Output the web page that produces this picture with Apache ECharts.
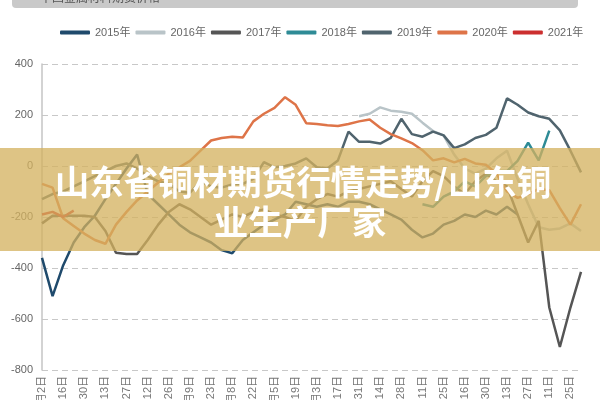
<!DOCTYPE html>
<html>
<head>
<meta charset="utf-8">
<script src="https://cdn.jsdelivr.net/npm/echarts@6/dist/echarts.min.js"></script>
<style>html,body{margin:0;padding:0;background:#fff}#c{width:600px;height:400px}</style>
</head>
<body>
<div id="c"></div>
<script>
const categories = ['1月2日','1月9日','1月16日','1月23日','1月30日','2月6日','2月13日','2月20日','2月27日','3月5日','3月12日','3月19日','3月26日','4月2日','4月9日','4月16日','4月23日','4月30日','5月8日','5月15日','5月22日','5月29日','6月5日','6月12日','6月19日','6月26日','7月3日','7月10日','7月17日','7月24日','7月31日','8月7日','8月14日','8月21日','8月28日','9月4日','9月11日','9月18日','9月25日','10月9日','10月16日','10月23日','10月30日','11月6日','11月13日','11月20日','11月27日','12月4日','12月11日','12月18日','12月25日','12月31日'];
const seriesNames = ['2015年','2016年','2017年','2018年','2019年','2020年','2021年'];
const yTicks = [-800,-600,-400,-200,0,200,400];
const N = null;
const s2015 = [-360,-510,-390,-300,-240,-195,-130,-70,-10,45,-110,-150,-190,-230,-260,-280,-300,-330,-342,-290,-260,-230,-210,-190,-140,-150,-160,-150,-160,-140,-140,-150,-170,-190,-210,-250,-280,-265,-230,-215,-190,-200,-175,-190,-160,-190,N,N,N,N,N,N];
const s2016 = [N,N,N,N,N,N,N,N,N,N,N,N,N,N,N,N,N,N,N,N,N,N,N,N,N,N,N,N,N,N,195,205,230,217,213,205,170,137,120,45,-10,-30,-10,30,60,-50,-150,-240,-250,-245,-225,-255];
const s2017 = [-225,-195,-195,-195,-195,-200,-255,-340,-345,-345,-290,-230,-180,-150,-170,-200,-230,-210,-190,-200,-180,-170,-190,-200,-215,-160,-130,-110,-120,-100,-90,-80,-70,-60,-90,-120,-60,-20,-40,-80,-110,-60,-30,-60,-80,-190,-300,-215,-555,-710,-555,-415];
const s2018 = [N,N,N,N,N,N,N,N,N,N,N,N,N,N,N,N,N,N,N,N,N,N,N,N,N,N,N,N,N,N,N,N,N,N,N,N,-150,-160,-120,-100,-60,-80,-40,-20,-20,20,92,22,139,N,N,N];
const s2019 = [-130,-110,-100,-80,-60,-40,-20,0,10,-10,-40,-60,-70,-100,-105,-60,-80,-85,-72,-70,-50,15,-5,0,10,30,-5,-10,22,135,95,95,88,110,185,125,115,135,120,70,85,110,122,150,265,240,210,195,185,140,60,-25];
const s2020 = [-70,-85,-205,-235,-265,-290,-305,-230,-180,-135,-100,-65,-30,-5,20,60,100,110,115,112,175,205,228,270,240,168,165,160,157,165,175,182,150,125,108,90,62,22,30,14,28,10,5,-30,-100,-125,-110,-90,-95,-165,-230,-150];
const s2021 = [-190,-180,-200,-175,N,N,N,N,N,N,N,N,N,N,N,N,N,N,N,N,N,N,N,N,N,N,N,N,N,N,N,N,N,N,N,N,N,N,N,N,N,N,N,N,N,N,N,N,N,N,N,N];
const seriesData = [s2015,s2016,s2017,s2018,s2019,s2020,s2021];
const colors = ['#1f4a6c','#b9c4c8','#555555','#2e8b96','#50646e','#de7448','#cc2f2f'];
const titleLines = ['山东省铜材期货行情走势/山东铜','业生产厂家'];

const chart = echarts.init(document.getElementById('c'));
chart.setOption({
  animation: false,
  color: colors,
  textStyle: {fontFamily: '"Liberation Sans", Arial, "Noto Sans CJK SC", sans-serif'},
  legend: {
    data: seriesNames, top: 22, left: 55,
    icon: 'roundRect', itemWidth: 30, itemHeight: 4, itemGap: 5,
    textStyle: {fontSize: 11, color: '#666'}
  },
  grid: {left: 42, right: 19, top: 64, bottom: 30, containLabel: false, outerBoundsMode: 'none'},
  xAxis: {
    type: 'category', data: categories, boundaryGap: false,
    axisLine: {show: false}, axisTick: {show: false},
    axisLabel: {interval: 1, rotate: 90, fontSize: 11, color: '#777', margin: 6}
  },
  yAxis: {
    type: 'value', min: yTicks[0], max: yTicks[yTicks.length-1], interval: 200,
    axisLine: {show: true, lineStyle: {color: '#c4c4c4', width: 1.5}},
    axisTick: {show: false},
    axisLabel: {fontSize: 11, color: '#666', margin: 9},
    splitLine: {lineStyle: {color: '#c8c8c8', type: [6,4], width: 1}}
  },
  series: seriesNames.map((n, k) => ({
    name: n, type: 'line', data: seriesData[k], showSymbol: false, symbol: 'none',
    connectNulls: false, lineStyle: {width: 2.5, color: colors[k]}
  })),
  graphic: [
    {type: 'rect', z: 100, shape: {x: 12, y: -10, width: 566, height: 18, r: 4}, style: {fill: '#c9c9c9'}},
    {type: 'text', z: 101, x: 40, y: -9, style: {text: '中国金属材料期货价格', fill: '#555', font: '12px "Noto Sans CJK SC"'}},
    {type: 'rect', z: 100, shape: {x: 0, y: 148, width: 600, height: 103}, style: {fill: 'rgba(212,178,95,0.76)'}},
    {type: 'text', z: 101, x: 303, y: 182, style: {text: titleLines[0], fill: '#ffffff', font: 'bold 34.5px "Noto Sans CJK SC"', textAlign: 'center', textVerticalAlign: 'middle'}},
    {type: 'text', z: 101, x: 300, y: 222, style: {text: titleLines[1], fill: '#ffffff', font: 'bold 34.5px "Noto Sans CJK SC"', textAlign: 'center', textVerticalAlign: 'middle'}}
  ]
});
</script>
</body>
</html>
